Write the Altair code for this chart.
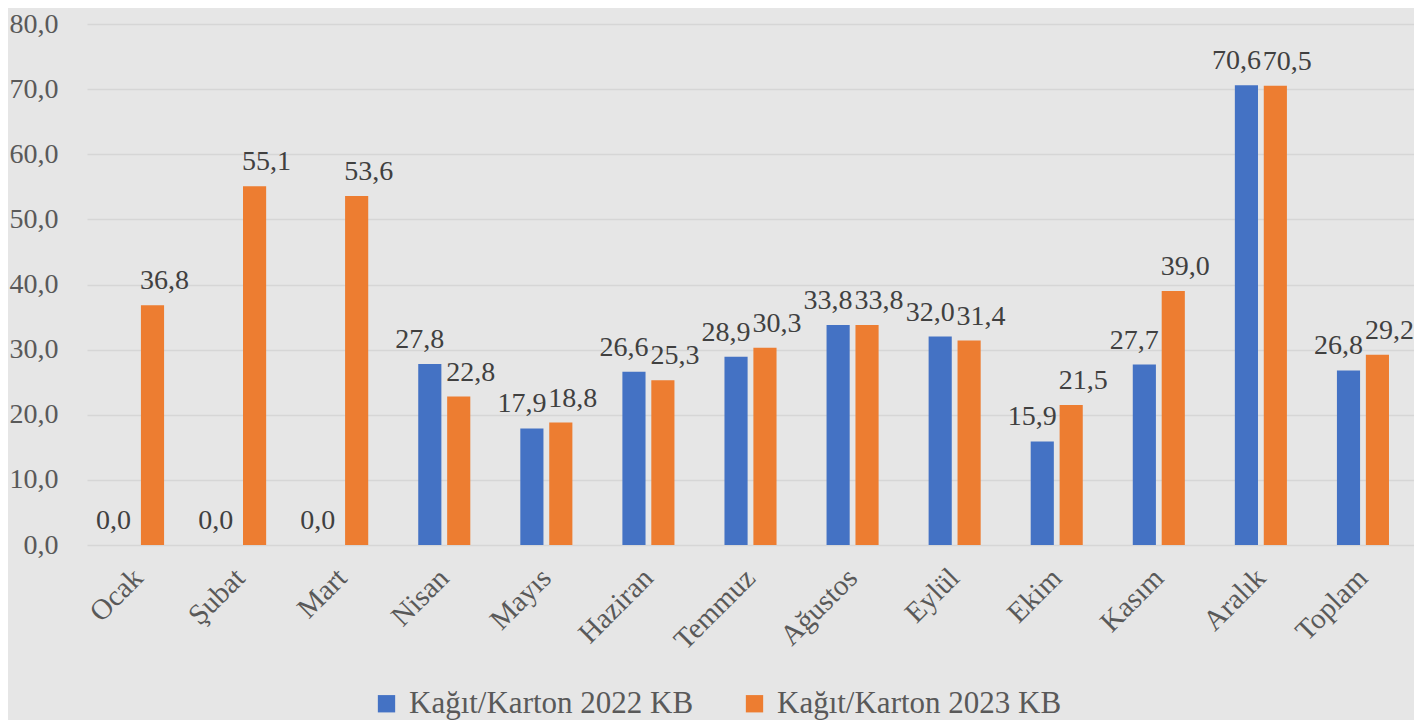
import altair as alt
import pandas as pd

months = ["Ocak", "Şubat", "Mart", "Nisan", "Mayıs", "Haziran", "Temmuz",
          "Ağustos", "Eylül", "Ekim", "Kasım", "Aralık", "Toplam"]
series_names = ["Kağıt/Karton 2022 KB", "Kağıt/Karton 2023 KB"]
v2022 = [0.0, 0.0, 0.0, 27.8, 17.9, 26.6, 28.9, 33.8, 32.0, 15.9, 27.7, 70.6, 26.8]
v2023 = [36.8, 55.1, 53.6, 22.8, 18.8, 25.3, 30.3, 33.8, 31.4, 21.5, 39.0, 70.5, 29.2]
y_ticks = [0, 10, 20, 30, 40, 50, 60, 70, 80]
colors = ["#4472C4", "#ED7D31"]

rows = []
for m, a, b in zip(months, v2022, v2023):
    rows.append({"month": m, "series": series_names[0], "value": a})
    rows.append({"month": m, "series": series_names[1], "value": b})
df = pd.DataFrame(rows)
df["label"] = df["value"].map(lambda v: f"{v:.1f}".replace(".", ","))

FONT = "Liberation Serif"

x = alt.X("month:N", sort=months, title=None,
          scale=alt.Scale(paddingInner=0.49, paddingOuter=0.245),
          axis=alt.Axis(labelAngle=-45, labelAlign="right", labelBaseline="middle",
                        labelFont=FONT, labelFontSize=29, labelColor="#595959",
                        labelPadding=28, domain=False, ticks=False, grid=False))
y = alt.Y("value:Q", title=None,
          scale=alt.Scale(domain=[0, 80], nice=False),
          axis=alt.Axis(values=y_ticks,
                        labelExpr="replace(format(datum.value, '.1f'), '.', ',')",
                        labelFont=FONT, labelFontSize=28, labelColor="#595959",
                        labelPadding=29, domain=False, ticks=False,
                        grid=True, gridColor="#D6D6D6", gridWidth=1.5))
xoff = alt.XOffset("series:N", sort=series_names,
                   scale=alt.Scale(paddingInner=0.2, paddingOuter=0))
color = alt.Color("series:N", sort=series_names,
                  scale=alt.Scale(domain=series_names, range=colors),
                  legend=alt.Legend(title=None, orient="none", direction="horizontal",
                                    legendX=284, legendY=664,
                                    symbolType="square", symbolSize=300,
                                    symbolStrokeWidth=0, symbolOpacity=1,
                                    labelFont=FONT, labelFontSize=31, labelLimit=0,
                                    labelColor="#595959", labelOffset=7,
                                    columnPadding=45))

base = alt.Chart(df)
bars = base.mark_bar().encode(x=x, y=y, xOffset=xoff, color=color)
text_a = base.transform_filter(alt.datum.series == series_names[0]).mark_text(
    font=FONT, fontSize=28, color="#404040", baseline="alphabetic", dy=-16, dx=-10
).encode(x=x, y=y, xOffset=xoff, text="label:N")
text_b = base.transform_filter(alt.datum.series == series_names[1]).mark_text(
    font=FONT, fontSize=28, color="#404040", baseline="alphabetic", dy=-16, dx=12
).encode(x=x, y=y, xOffset=xoff, text="label:N")

chart = (bars + text_a + text_b).properties(
    width=1327, height=521,
    padding={"left": 79, "top": 16, "right": 0, "bottom": 175},
    autosize=alt.AutoSizeParams(type="none"),
    background="#E6E6E6",
).configure_view(stroke=None)

chart.save("out.html", embed_options={"renderer": "svg", "actions": False})
